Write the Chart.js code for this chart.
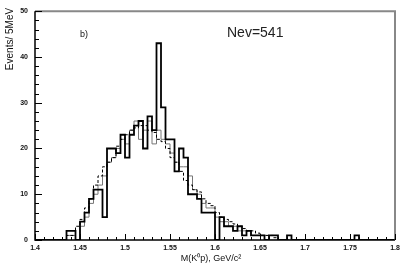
<!DOCTYPE html>
<html>
<head>
<meta charset="utf-8">
<script src="https://cdn.jsdelivr.net/npm/chart.js@4"></script>
<style>
  html, body { margin: 0; padding: 0; background: #fff; }
</style>
</head>
<body>
<canvas id="massChart" width="409" height="271"></canvas>
<script>
// histogram binning: 80 bins of 5 MeV from 1.4 to 1.8 GeV
const BIN_LO = 1.4;
const BIN_W = 0.005;

// data (thick black)
const dataCounts = [
  0, 0, 0, 0, 0, 0, 0, 2, 2, 0,
  4, 6, 9, 11, 11, 5, 20, 20, 19, 23,
  18, 23, 25, 26, 20, 27, 24, 43, 29, 22,
  22, 15, 20, 18, 10, 10, 9, 6, 6, 6,
  0, 5, 3, 3, 2, 3, 1, 2, 1, 1,
  1, 0, 1, 1, 0, 0, 1, 0, 0, 0,
  0, 0, 0, 0, 0, 0, 0, 0, 0, 0,
  0, 1, 0, 0, 0, 0, 0, 0, 0, 0
];
// second sample (thin grey)
const greyCounts = [
  0, 0, 0, 0, 0, 0, 0, 1, 1, 0,
  3, 5, 8, 10, 12, 14, 17, 18, 20, 22,
  21, 24, 26, 22, 24, 26, 21, 24, 22, 21,
  19, 17, 16, 16, 14, 11, 10, 8, 7, 7,
  5, 4, 4, 3, 3, 2, 2, 2, 1, 1,
  1, 1, 0, 0, 0, 0, 0, 0, 0, 0,
  0, 0, 0, 0, 0, 0, 0, 0, 0, 0,
  0, 0, 0, 0, 0, 0, 0, 0, 0, 0
];
// expectation (dashed)
const fitCounts = [
  0, 0, 0, 0, 0, 0, 0, 1, 1, 3,
  4.5, 7, 9, 12, 14, 16, 17, 18, 20.5, 22,
  23, 24, 24.5, 25, 25, 24, 23.5, 22, 21.5, 20,
  18, 17, 15, 13, 12, 11, 10.5, 9, 8, 7.5,
  6, 5, 4.5, 4, 3.5, 3, 2.5, 2, 2, 1.5,
  1, 1, 1, 0.5, 0, 0, 0, 0, 0, 0,
  0, 0, 0, 0, 0, 0, 0, 0, 0, 0,
  0, 0, 0, 0, 0, 0, 0, 0, 0, 0
];

const xTicks = [1.4, 1.45, 1.5, 1.55, 1.6, 1.65, 1.7, 1.75, 1.8];
const yTicks = [0, 10, 20, 30, 40, 50];

// step points: one at each bin's low edge, plus closing point at the upper edge
function stepPoints(counts) {
  const pts = counts.map((c, i) => ({ x: BIN_LO + i * BIN_W, y: c }));
  pts.push({ x: BIN_LO + counts.length * BIN_W, y: counts[counts.length - 1] });
  return pts;
}

const frame = {
  id: 'frame',
  afterDatasetsDraw(chart) {
    const { ctx, chartArea: a, scales: { x, y } } = chart;
    ctx.save();
    // top/right grey border
    ctx.strokeStyle = '#888';
    ctx.lineWidth = 2;
    ctx.beginPath();
    ctx.moveTo(a.left, a.top);
    ctx.lineTo(a.right, a.top);
    ctx.lineTo(a.right, a.bottom);
    ctx.stroke();
    // axes
    ctx.strokeStyle = '#000';
    ctx.lineWidth = 1.5;
    ctx.beginPath();
    ctx.moveTo(a.left, a.top);
    ctx.lineTo(a.left, a.bottom);
    ctx.lineTo(a.right, a.bottom);
    ctx.stroke();
    // inward ticks
    ctx.lineWidth = 1;
    ctx.beginPath();
    for (let k = 0; k <= 40; k++) {
      const px = Math.round(x.getPixelForValue(1.4 + k * 0.01)) + 0.5;
      const len = k % 5 === 0 ? 6 : 3;
      ctx.moveTo(px, a.bottom);
      ctx.lineTo(px, a.bottom - len);
    }
    for (let k = 0; k <= 25; k++) {
      const py = Math.round(y.getPixelForValue(k * 2)) + 0.5;
      const len = k % 5 === 0 ? 7 : 4;
      ctx.moveTo(a.left, py);
      ctx.lineTo(a.left + len, py);
    }
    ctx.stroke();
    // texts
    ctx.fillStyle = '#111';
    ctx.font = '9px "Liberation Sans", Arial, sans-serif';
    ctx.textBaseline = 'middle';
    ctx.textAlign = 'left';
    ctx.fillText('b)', 80, 35);
    ctx.fillStyle = '#222';
    ctx.font = '14px "Liberation Sans", Arial, sans-serif';
    ctx.fillText('Nev=541', 227, 33);
    ctx.fillStyle = '#111';
    ctx.font = '9px "Liberation Sans", Arial, sans-serif';
    ctx.textAlign = 'center';
    ctx.fillText('M(K\u2070p), GeV/c\u00b2', 211, 259);
    ctx.save();
    ctx.translate(10, 39);
    ctx.rotate(-Math.PI / 2);
    ctx.font = '10px "Liberation Sans", Arial, sans-serif';
    ctx.fillText('Events/ 5MeV', 0, 0);
    ctx.restore();
    ctx.restore();
  }
};

new Chart(document.getElementById('massChart').getContext('2d'), {
  type: 'line',
  data: {
    datasets: [
      {
        label: 'data',
        data: stepPoints(dataCounts),
        stepped: 'before',
        borderColor: '#000',
        borderWidth: 1.8,
        pointRadius: 0,
        fill: false
      },
      {
        label: 'fit',
        data: stepPoints(fitCounts),
        stepped: 'before',
        borderColor: '#000',
        borderWidth: 1,
        borderDash: [3, 2],
        pointRadius: 0,
        fill: false
      },
      {
        label: 'second',
        data: stepPoints(greyCounts),
        stepped: 'before',
        borderColor: '#777',
        borderWidth: 1,
        pointRadius: 0,
        fill: false
      }
    ]
  },
  options: {
    responsive: false,
    animation: false,
    devicePixelRatio: 1,
    layout: { padding: { top: 10, right: 14, left: 0, bottom: 0 } },
    plugins: { legend: { display: false }, tooltip: { enabled: false } },
    scales: {
      x: {
        type: 'linear',
        min: 1.4,
        max: 1.8,
        afterFit: s => { s.height = 31; },
        afterBuildTicks: s => { s.ticks = xTicks.map(v => ({ value: v })); },
        grid: { display: false, drawTicks: false },
        border: { display: false },
        ticks: {
          padding: 4,
          maxRotation: 0,
          color: '#111',
          font: { family: '"Liberation Sans", Arial, sans-serif', size: 7, weight: 'bold' },
          callback: v => String(Number(v.toFixed(2)))
        }
      },
      y: {
        min: 0,
        max: 50,
        afterFit: s => { s.width = 35; },
        afterBuildTicks: s => { s.ticks = yTicks.map(v => ({ value: v })); },
        grid: { display: false, drawTicks: false },
        border: { display: false },
        ticks: {
          padding: 7,
          color: '#111',
          font: { family: '"Liberation Sans", Arial, sans-serif', size: 7, weight: 'bold' }
        }
      }
    }
  },
  plugins: [frame]
});
</script>
</body>
</html>
